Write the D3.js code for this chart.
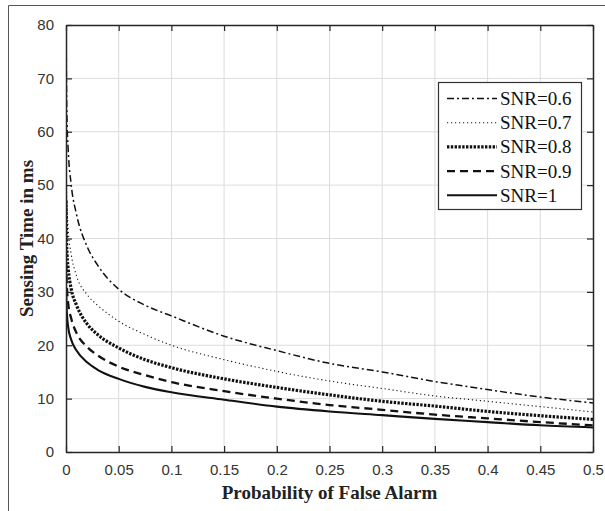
<!DOCTYPE html>
<html>
<head>
<meta charset="utf-8">
<script src="https://cdn.jsdelivr.net/npm/d3@7"></script>
<style>
  html, body { margin: 0; padding: 0; background: #fff; }
  svg { display: block; }
</style>
</head>
<body>
<div id="chart"></div>
<script>
// ---- data ----
const pfa = [0.0001, 0.0005, 0.001, 0.002, 0.005, 0.01, 0.02, 0.03, 0.05, 0.075, 0.1, 0.15, 0.2, 0.25, 0.3, 0.35, 0.4, 0.45, 0.5];
const snr06 = [80, 68, 62, 57, 50, 44.5, 38.5, 35, 30.5, 27.5, 25.5, 21.7, 19.0, 16.6, 15.0, 13.2, 11.7, 10.3, 9.2];
const snr07 = [60, 50, 46, 42, 37, 33, 29.5, 27.5, 24.5, 22, 20.0, 17.3, 15.1, 13.3, 11.9, 10.5, 9.5, 8.5, 7.5];
const snr08 = [47, 40, 37, 34.5, 30.5, 27.5, 24, 22, 19.5, 17.3, 15.8, 13.7, 12.1, 10.7, 9.5, 8.6, 7.6, 6.8, 6.1];
const snr09 = [38, 33, 30.5, 28, 25, 22.3, 19.7, 18.1, 16.0, 14.4, 13.1, 11.4, 10.0, 8.8, 7.9, 7.0, 6.3, 5.6, 5.0];
const snr10 = [31, 27.5, 25.5, 23.5, 21, 19, 16.8, 15.4, 13.7, 12.2, 11.2, 9.8, 8.5, 7.6, 6.9, 6.2, 5.6, 5.0, 4.6];
const seriesNames = ["SNR=0.6", "SNR=0.7", "SNR=0.8", "SNR=0.9", "SNR=1"];
const seriesValues = [snr06, snr07, snr08, snr09, snr10];
const xTicks = [0, 0.05, 0.1, 0.15, 0.2, 0.25, 0.3, 0.35, 0.4, 0.45, 0.5];
const xTickLabels = ["0", "0.05", "0.1", "0.15", "0.2", "0.25", "0.3", "0.35", "0.4", "0.45", "0.5"];
const yTicks = [0, 10, 20, 30, 40, 50, 60, 70, 80];
const xTitle = "Probability of False Alarm";
const yTitle = "Sensing Time in ms";

// ---- styles ----
const styles = [
  { width: 1.5, dash: "7,3,2,3" },
  { width: 1.1, dash: "1.2,2.8" },
  { width: 3.2, dash: "2.4,1.4" },
  { width: 2.3, dash: "8,5" },
  { width: 2.1, dash: null }
];

const W = 605, H = 511;
const L = 66, R = 593, T = 25, B = 452;
const axisColor = "#262626";

const svg = d3.select("#chart").append("svg").attr("width", W).attr("height", H);
svg.append("rect").attr("width", W).attr("height", H).attr("fill", "#fff");

// outer frame (left and top visible)
svg.append("line").attr("x1", 8.5).attr("x2", 8.5).attr("y1", 5.5).attr("y2", H).attr("stroke", "#555").attr("stroke-width", 1);
svg.append("line").attr("x1", 8.5).attr("x2", W).attr("y1", 5.5).attr("y2", 5.5).attr("stroke", "#555").attr("stroke-width", 1);

const x = d3.scaleLinear().domain([0, 0.5]).range([L, R]);
const y = d3.scaleLinear().domain([0, 80]).range([B, T]);

// grid
const grid = svg.append("g");
grid.selectAll(".gx").data(xTicks.slice(1, -1)).join("line")
  .attr("x1", d => x(d)).attr("x2", d => x(d)).attr("y1", T).attr("y2", B)
  .attr("stroke", "#dcdcdc").attr("stroke-width", 1);
grid.selectAll(".gy").data(yTicks.slice(1, -1)).join("line")
  .attr("x1", L).attr("x2", R).attr("y1", d => y(d)).attr("y2", d => y(d))
  .attr("stroke", "#dcdcdc").attr("stroke-width", 1);

// clip
svg.append("clipPath").attr("id", "clip").append("rect")
  .attr("x", L).attr("y", T).attr("width", R - L).attr("height", B - T);

const line = d3.line().x(d => x(d[0])).y(d => y(d[1])).curve(d3.curveMonotoneX);
const lines = svg.append("g").attr("clip-path", "url(#clip)");
seriesValues.forEach((vals, i) => {
  const pts = pfa.map((p, j) => [p, vals[j]]);
  lines.append("path").datum(pts)
    .attr("d", line)
    .attr("fill", "none")
    .attr("stroke", "#111")
    .attr("stroke-width", styles[i].width)
    .attr("stroke-dasharray", styles[i].dash)
    .attr("stroke-linejoin", "round");
});

// axes (box with inward ticks)
const tickFont = "'Liberation Sans', Arial, sans-serif";
const xAxisB = d3.axisBottom(x).tickValues(xTicks).tickFormat((d, i) => xTickLabels[i]).tickSizeInner(-6).tickSizeOuter(0).tickPadding(12);
const gxB = svg.append("g").attr("transform", `translate(0,${B})`).call(xAxisB);
const xAxisT = d3.axisTop(x).tickValues(xTicks).tickFormat("").tickSizeInner(-6).tickSizeOuter(0);
const gxT = svg.append("g").attr("transform", `translate(0,${T})`).call(xAxisT);
const yAxisL = d3.axisLeft(y).tickValues(yTicks).tickSizeInner(-6).tickSizeOuter(0).tickPadding(12);
const gyL = svg.append("g").attr("transform", `translate(${L},0)`).call(yAxisL);
const yAxisR = d3.axisRight(y).tickValues(yTicks).tickFormat("").tickSizeInner(-6).tickSizeOuter(0);
const gyR = svg.append("g").attr("transform", `translate(${R},0)`).call(yAxisR);

[gxB, gxT, gyL, gyR].forEach(g => {
  g.select(".domain").attr("stroke", axisColor).attr("stroke-width", 1.5);
  g.selectAll(".tick line").attr("stroke", axisColor).attr("stroke-width", 1.2);
  g.selectAll(".tick text").attr("fill", "#333").style("font-family", tickFont).style("font-size", "15px");
});
gxB.selectAll(".tick text").attr("dy", "0.71em");

// axis titles
svg.append("text").attr("x", (L + R) / 2).attr("y", 499)
  .attr("text-anchor", "middle")
  .style("font-family", "'Liberation Serif', 'Times New Roman', serif")
  .style("font-weight", "bold").style("font-size", "19px").attr("fill", "#222")
  .text(xTitle);
svg.append("text")
  .attr("transform", `translate(33,${(T + B) / 2}) rotate(-90)`)
  .attr("text-anchor", "middle")
  .style("font-family", "'Liberation Serif', 'Times New Roman', serif")
  .style("font-weight", "bold").style("font-size", "19px").attr("fill", "#222")
  .text(yTitle);

// legend
const lg = svg.append("g");
lg.append("rect").attr("x", 438.5).attr("y", 82.5).attr("width", 143).attr("height", 127)
  .attr("fill", "#fff").attr("stroke", "#333").attr("stroke-width", 1.2);
seriesNames.forEach((name, i) => {
  const cy = 98.5 + i * 24.2;
  lg.append("line").attr("x1", 447).attr("x2", 497).attr("y1", cy).attr("y2", cy)
    .attr("stroke", "#111").attr("stroke-width", styles[i].width)
    .attr("stroke-dasharray", styles[i].dash);
  lg.append("text").attr("x", 500).attr("y", cy + 6.5)
    .style("font-family", "'Liberation Serif', 'Times New Roman', serif")
    .style("font-size", "19px").attr("fill", "#111")
    .text(name);
});
</script>
</body>
</html>
